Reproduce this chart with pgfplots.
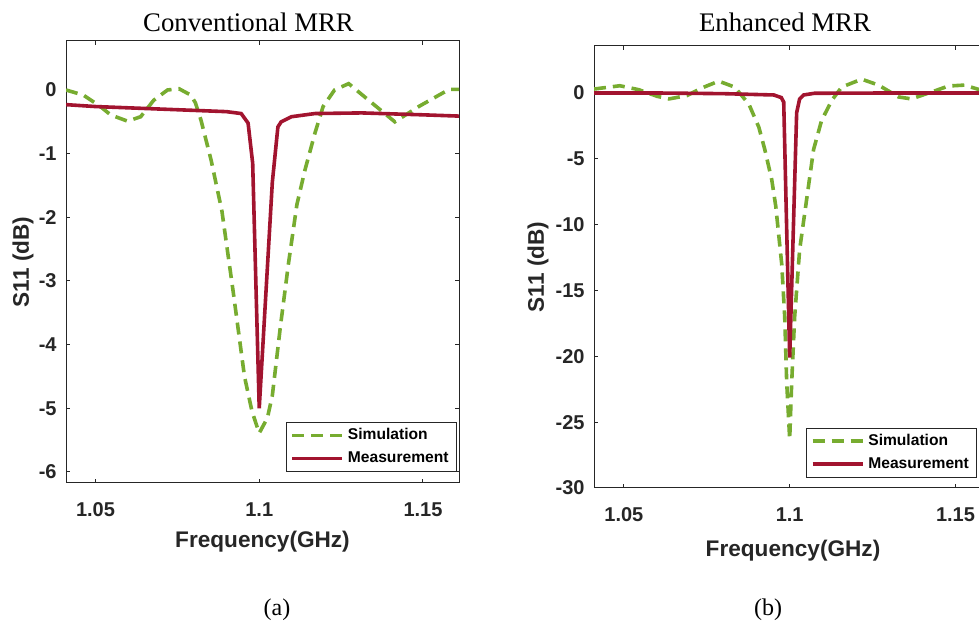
\documentclass[border=0pt]{standalone}
\usepackage{fontspec}
\setmainfont{Liberation Serif}
\setsansfont{Liberation Sans}
\usepackage{pgfplots}
\pgfplotsset{compat=1.18}

\definecolor{simgreen}{rgb}{0.466,0.674,0.188}
\definecolor{measred}{rgb}{0.635,0.078,0.184}
\definecolor{axgray}{rgb}{0.15,0.15,0.15}

\pgfplotsset{
  mrr/.style={
    scale only axis,
    anchor=south west,
    xmin=1.041, xmax=1.161,
    xtick={1.05,1.1,1.15},
    xticklabels={1.05,1.1,1.15},
    tick align=inside,
    xtick pos=both, ytick pos=both,
    major tick length=2.2pt,
    axis line style={axgray, line width=0.5pt},
    every tick/.style={axgray, line width=0.5pt},
    ticklabel style={font=\sffamily\bfseries\fontsize{10}{12}\selectfont, text=axgray},
    xticklabel style={anchor=base, yshift=-17pt},
    yticklabel style={anchor=east, inner sep=0pt, xshift=-4.5pt},
    label style={font=\sffamily\bfseries\fontsize{11.3}{13}\selectfont, text=axgray},
    legend cell align=left,
    legend style={draw=axgray, line width=0.5pt, fill=white,
      font=\sffamily\bfseries\fontsize{7.8}{9}\selectfont,
      inner xsep=2pt, inner ysep=0.8pt, row sep=0pt,
      nodes={text height=6pt, text depth=1.5pt, inner sep=2pt}},
    legend image code/.code={\draw[#1] (0pt,0pt) -- (25pt,0pt);},
  },
  sim/.style={simgreen, line width=1.8pt, dash pattern=on 6pt off 3.5pt},
  meas/.style={measred, line width=1.8pt},
}

\begin{document}
\begin{tikzpicture}
\useasboundingbox (0,0) rectangle (489.5pt,312pt);
\clip (0,0) rectangle (489.5pt,312pt);

%% (a) Conventional MRR
\begin{axis}[mrr,
  at={(33pt,70.5pt)},
  width=196.5pt, height=221pt,
  ymin=-6.173, ymax=0.77,
  ytick={-6,-5,-4,-3,-2,-1,0},
  yticklabels={-6,-5,-4,-3,-2,-1,0},
  xlabel={Frequency(GHz)},
  ylabel={S11 (dB)},
  xlabel style={at={(axis description cs:0.5,0)}, anchor=base, yshift=-32.5pt},
  ylabel style={at={(axis description cs:-0.1094,0.5)}, anchor=center, rotate=0},
  legend style={at={(axis cs:1.1604,-6.0)}, anchor=south east},
]
\addplot[sim] coordinates {
 (1.041,0.00) (1.0463,-0.08) (1.0515,-0.26) (1.0546,-0.39) (1.0598,-0.49)
 (1.0638,-0.42) (1.0678,-0.16) (1.0720,0.00) (1.0755,0.02) (1.0791,-0.08)
 (1.0805,-0.20) (1.0822,-0.47) (1.0853,-1.10) (1.0886,-1.90) (1.0920,-3.15)
 (1.0955,-4.50) (1.0978,-5.05) (1.1000,-5.39) (1.1025,-5.15) (1.1040,-4.80)
 (1.1065,-3.70) (1.1090,-2.70) (1.1115,-1.80) (1.1140,-1.25) (1.1170,-0.68)
 (1.1195,-0.26) (1.1230,0.00) (1.1273,0.10) (1.1334,-0.16) (1.1414,-0.50)
 (1.1487,-0.26) (1.1580,0.01) (1.1610,0.01)
};
\addlegendentry{Simulation}
\addplot[meas] coordinates {
 (1.041,-0.23) (1.050,-0.26) (1.060,-0.28) (1.070,-0.30) (1.080,-0.32)
 (1.090,-0.34) (1.0945,-0.37) (1.0966,-0.52) (1.0980,-1.15) (1.1000,-5.00)
 (1.1040,-1.45) (1.1057,-0.58) (1.1067,-0.50) (1.1098,-0.42) (1.1170,-0.37)
 (1.1313,-0.36) (1.1436,-0.38) (1.1500,-0.39) (1.1610,-0.41)
};
\addlegendentry{Measurement}
\end{axis}

%% (b) Enhanced MRR
\begin{axis}[mrr,
  at={(297pt,68pt)},
  width=199pt, height=221pt,
  ymin=-30, ymax=3.57,
  ytick={-30,-25,-20,-15,-10,-5,0},
  yticklabels={-30,-25,-20,-15,-10,-5,0},
  xlabel={Frequency(GHz)},
  ylabel={S11 (dB)},
  xlabel style={at={(axis description cs:0.5,0)}, anchor=base, yshift=-34.5pt},
  ylabel style={at={(axis description cs:-0.1407,0.5)}, anchor=center, rotate=0},
  legend style={at={(axis cs:1.1566,-29.23)}, anchor=south east},
]
\addplot[sim] coordinates {
 (1.041,0.30) (1.0488,0.55) (1.0545,0.25) (1.0600,-0.25) (1.0636,-0.45)
 (1.0690,-0.20) (1.0735,0.38) (1.0786,0.90) (1.0834,0.45) (1.0877,-0.85)
 (1.0907,-2.6) (1.0925,-4.3) (1.0946,-6.6) (1.0958,-8.6) (1.0976,-13.0)
 (1.0985,-17.0) (1.0991,-22.0) (1.1000,-26.3) (1.1006,-22.0) (1.1015,-17.0)
 (1.1030,-11.9) (1.1051,-8.1) (1.1072,-4.3) (1.1096,-2.1) (1.1127,-0.55)
 (1.1157,0.45) (1.1217,1.05) (1.1268,0.60) (1.1328,-0.30) (1.1367,-0.45)
 (1.1419,0.00) (1.1479,0.53) (1.1527,0.60) (1.1575,0.23) (1.1610,0.00)
};
\addlegendentry{Simulation}
\addplot[meas] coordinates {
 (1.041,0.00) (1.060,0.00) (1.080,-0.05) (1.0952,-0.15) (1.0975,-0.35)
 (1.0982,-0.70) (1.1000,-20.1) (1.1021,-1.5) (1.1030,-0.45) (1.1042,-0.15)
 (1.1075,-0.02) (1.1300,0.00) (1.1610,0.00)
};
\addlegendentry{Measurement}
\end{axis}

\node[anchor=base, font=\rmfamily\fontsize{13.4}{16}\selectfont] at (124.25pt,296pt) {Conventional MRR};
\node[anchor=base, font=\rmfamily\fontsize{13.4}{16}\selectfont] at (392.5pt,296pt) {Enhanced MRR};
\node[anchor=base, font=\rmfamily\fontsize{12}{14}\selectfont] at (138.5pt,4pt) {(a)};
\node[anchor=base, font=\rmfamily\fontsize{12}{14}\selectfont] at (384pt,4pt) {(b)};
\end{tikzpicture}
\end{document}
